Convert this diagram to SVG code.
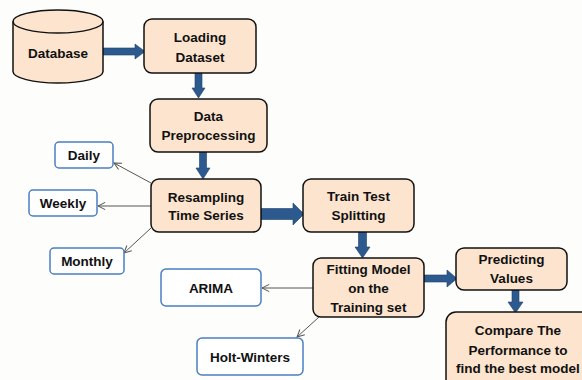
<svg xmlns="http://www.w3.org/2000/svg" width="582" height="380" viewBox="0 0 582 380">
<defs>
<style>
.box{fill:#fce4cf;stroke:#111;stroke-width:1.5}
.opt{fill:#fff;stroke:#4a7fc1;stroke-width:1.5}
.t{font-family:"Liberation Sans",Arial,sans-serif;font-weight:bold;font-size:13.5px;fill:#111;text-anchor:middle}
.thin{stroke:#555;stroke-width:1;fill:none}
.thick{fill:#2d5a8e;stroke:#1f416b;stroke-width:0.6}
</style>
<marker id="open" viewBox="0 0 10 10" refX="9" refY="5" markerWidth="9" markerHeight="9" orient="auto" markerUnits="userSpaceOnUse">
<path d="M1,1 L9,5 L1,9" fill="none" stroke="#555" stroke-width="1.1"/>
</marker>
</defs>
<rect width="582" height="380" fill="#fdfdfb"/>
<g id="connectors">
<polygon class="thick" points="103,48 135,48 135,44 145,51.5 135,59 135,55 103,55"/>
<polygon class="thick" points="195,73 202,73 202,88 205,88 198.5,98 192,88 195,88"/>
<polygon class="thick" points="199.5,152 206.5,152 206.5,168 210,168 203,179 196,168 199.5,168"/>
<polygon class="thick" points="261,208.5 293,208.5 293,203 304,214 293,225 293,219.5 261,219.5"/>
<polygon class="thick" points="358.5,232 366.5,232 366.5,247 370,247 362.5,258 355,247 358.5,247"/>
<polygon class="thick" points="424,275 447,275 447,270 457,278.5 447,287 447,282 424,282"/>
<polygon class="thick" points="512,290 519,290 519,302 523,302 515.5,313 508,302 512,302"/>
<line class="thin" x1="151" y1="183" x2="114" y2="163" marker-end="url(#open)"/>
<line class="thin" x1="151" y1="206" x2="98" y2="206" marker-end="url(#open)"/>
<line class="thin" x1="151" y1="228" x2="124" y2="253" marker-end="url(#open)"/>
<line class="thin" x1="313" y1="288" x2="262" y2="288" marker-end="url(#open)"/>
<line class="thin" x1="319" y1="317" x2="297" y2="337" marker-end="url(#open)"/>
</g>
<g id="database">
<path class="box" d="M13,21.5 V71.5 A45,11.5 0 0 0 103,71.5 V21.5 A45,11.5 0 0 0 13,21.5 Z"/>
<path d="M13,21.5 A45,11.5 0 0 0 103,21.5" fill="none" stroke="#111" stroke-width="1.5"/>
<text class="t" x="58" y="58">Database</text>
</g>
<g id="loading">
<rect class="box" x="144" y="19" width="112" height="54" rx="8"/>
<text class="t" x="200" y="42">Loading</text>
<text class="t" x="200" y="62">Dataset</text>
</g>
<g id="preprocessing">
<rect class="box" x="150" y="99" width="117" height="53" rx="8"/>
<text class="t" x="208.5" y="121">Data</text>
<text class="t" x="208.5" y="140">Preprocessing</text>
</g>
<g id="resampling">
<rect class="box" x="151" y="179" width="110" height="53" rx="8"/>
<text class="t" x="206" y="201.5">Resampling</text>
<text class="t" x="206" y="219.5">Time Series</text>
</g>
<g id="daily">
<rect class="opt" x="55" y="142" width="58" height="26" rx="4"/>
<text class="t" x="84" y="160">Daily</text>
</g>
<g id="weekly">
<rect class="opt" x="29" y="190" width="68" height="26" rx="4"/>
<text class="t" x="63" y="208">Weekly</text>
</g>
<g id="monthly">
<rect class="opt" x="50" y="248" width="74" height="26" rx="4"/>
<text class="t" x="87" y="266">Monthly</text>
</g>
<g id="traintest">
<rect class="box" x="303" y="179" width="111" height="53" rx="8"/>
<text class="t" x="358.5" y="200.5">Train Test</text>
<text class="t" x="358.5" y="219.5">Splitting</text>
</g>
<g id="fitting">
<rect class="box" x="313" y="258" width="111" height="59" rx="8"/>
<text class="t" x="368.5" y="273.5">Fitting Model</text>
<text class="t" x="368.5" y="292.5">on the</text>
<text class="t" x="368.5" y="311.5">Training set</text>
</g>
<g id="arima">
<rect class="opt" x="161" y="269" width="100" height="37" rx="5"/>
<text class="t" x="211" y="293">ARIMA</text>
</g>
<g id="holtwinters">
<rect class="opt" x="197" y="338" width="106" height="37" rx="5"/>
<text class="t" x="250" y="362">Holt-Winters</text>
</g>
<g id="predicting">
<rect class="box" x="456" y="248" width="111" height="42" rx="8"/>
<text class="t" x="511.5" y="263.5">Predicting</text>
<text class="t" x="511.5" y="282.5">Values</text>
</g>
<g id="compare">
<rect class="box" x="446" y="312" width="146" height="80" rx="10"/>
<text class="t" x="518" y="334.5">Compare The</text>
<text class="t" x="518" y="354.5">Performance to</text>
<text class="t" x="518" y="372.5">find the best model</text>
</g>
</svg>
